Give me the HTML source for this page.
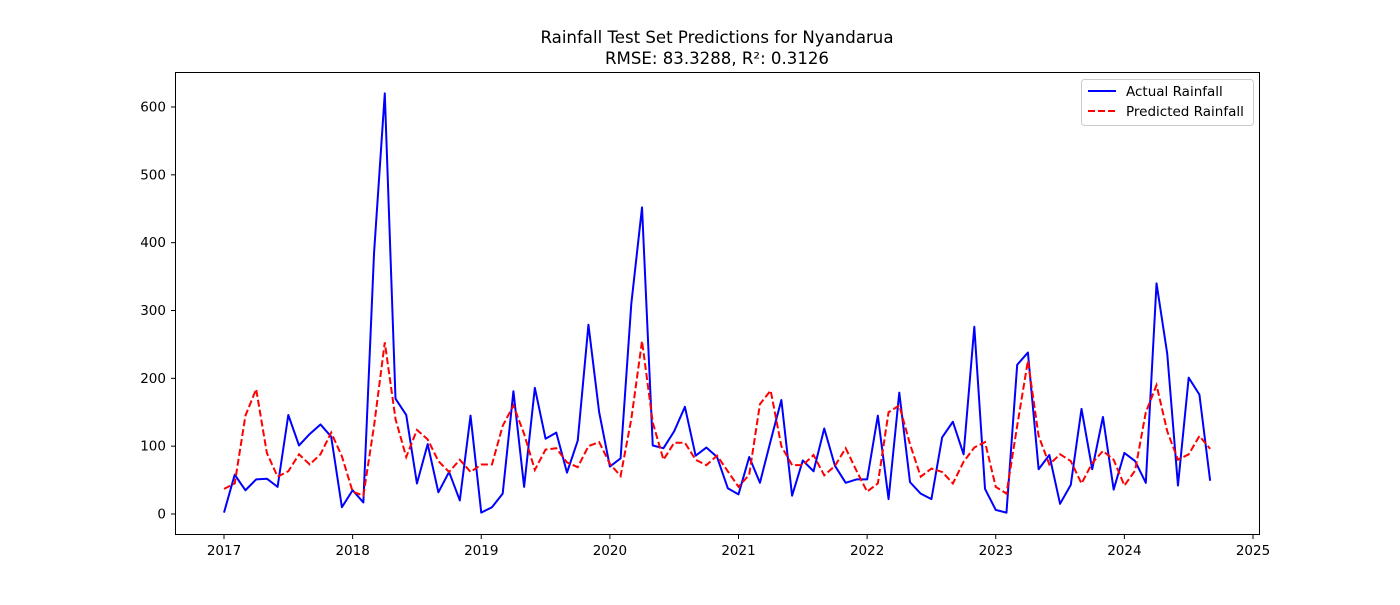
<!DOCTYPE html>
<html><head><meta charset="utf-8"><style>
body{margin:0;background:#fff;font-family:"Liberation Sans","DejaVu Sans",sans-serif;}
svg text{font-family:"DejaVu Sans","Liberation Sans",sans-serif;}
</style></head><body>
<svg id="chart" width="1400" height="600" xmlns="http://www.w3.org/2000/svg">
<rect width="1400" height="600" fill="#fff"/>
<text x="717" y="43" text-anchor="middle" font-size="16.6">Rainfall Test Set Predictions for Nyandarua</text>
<text x="717" y="64" text-anchor="middle" font-size="16.6">RMSE: 83.3288, R²: 0.3126</text>
<g id="axes"></g>
<g id="series"></g>
<rect x="175.5" y="72.5" width="1084" height="462" fill="none" stroke="#000" stroke-width="1"/>
<g>
<rect x="1081.5" y="79.5" width="172" height="46" rx="3" fill="#fff" stroke="#ccc"/>
<line x1="1088" y1="91" x2="1116" y2="91" stroke="#0000ff" stroke-width="2"/>
<text x="1126" y="96" font-size="13.5">Actual Rainfall</text>
<line x1="1088" y1="111" x2="1116" y2="111" stroke="#ff0000" stroke-width="2" stroke-dasharray="7,3"/>
<text x="1126" y="116" font-size="13.5">Predicted Rainfall</text>
</g>
</svg>
<script>
const actual = [2,58,35,51,52,40,146,101,118,132,114,10,
35,17,385,620,170,146,45,103,32,62,20,145,
2,10,30,181,40,186,111,120,61,108,279,150,
70,82,310,452,101,97,122,158,86,98,84,38,
29,84,46,108,168,27,79,63,126,71,46,51,
51,145,22,179,47,30,22,113,136,88,276,37,
6,2,220,238,66,87,15,43,155,66,143,36,
90,78,46,340,236,42,201,176,49];
const predicted = [37,45,145,184,90,55,63,88,73,88,120,85,
33,27,130,253,140,84,124,110,78,62,80,62,
73,73,130,160,118,65,95,97,76,69,100,106,
74,56,140,255,135,80,105,105,80,72,86,63,
40,58,162,182,100,72,72,87,57,71,97,64,
33,45,150,160,103,55,67,62,45,77,98,106,
40,30,130,226,115,73,88,78,45,75,93,80,
42,64,150,190,122,80,88,115,96];
const xTicks = [2017,2018,2019,2020,2021,2022,2023,2024,2025];
const yTicks = [0,100,200,300,400,500,600];
const startYear = 2017;

const NS="http://www.w3.org/2000/svg";
function xScale(yr){return 224 + (yr-2017)*128.625;}
function yScale(v){return 514 - v*(407/600);}
const axes=document.getElementById('axes');
xTicks.forEach(t=>{
  const x=xScale(t);
  const l=document.createElementNS(NS,'line');
  
  
  l.setAttribute('x1',x);l.setAttribute('x2',x);l.setAttribute('y1',534.5);l.setAttribute('y2',539);l.setAttribute('stroke','#000');
  axes.appendChild(l);
  const tx=document.createElementNS(NS,'text');
  
  
  tx.setAttribute('x',x);tx.setAttribute('y',555);tx.setAttribute('text-anchor','middle');tx.setAttribute('font-size','13.5');
  tx.textContent=t;axes.appendChild(tx);
});
yTicks.forEach(t=>{
  const y=yScale(t);
  const l=document.createElementNS(NS,'line');
  
  
  l.setAttribute('x1',171);l.setAttribute('x2',175.5);l.setAttribute('y1',y);l.setAttribute('y2',y);l.setAttribute('stroke','#000');
  axes.appendChild(l);
  const tx=document.createElementNS(NS,'text');
  
  
  tx.setAttribute('x',166);tx.setAttribute('y',y+4.5);tx.setAttribute('text-anchor','end');tx.setAttribute('font-size','13.5');
  tx.textContent=t;axes.appendChild(tx);
});
function pts(arr){return arr.map((v,i)=>xScale(startYear+i/12).toFixed(2)+','+yScale(v).toFixed(2)).join(' ');}
const series=document.getElementById('series');
const pa=document.createElementNS(NS,'polyline');


pa.setAttribute('points',pts(actual));pa.setAttribute('fill','none');pa.setAttribute('stroke','#0000ff');pa.setAttribute('stroke-width','2');pa.setAttribute('stroke-linejoin','round');
series.appendChild(pa);
const pp=document.createElementNS(NS,'polyline');


pp.setAttribute('points',pts(predicted));pp.setAttribute('fill','none');pp.setAttribute('stroke','#ff0000');pp.setAttribute('stroke-width','2');pp.setAttribute('stroke-dasharray','7,3');
series.appendChild(pp);
</script>
</body></html>
